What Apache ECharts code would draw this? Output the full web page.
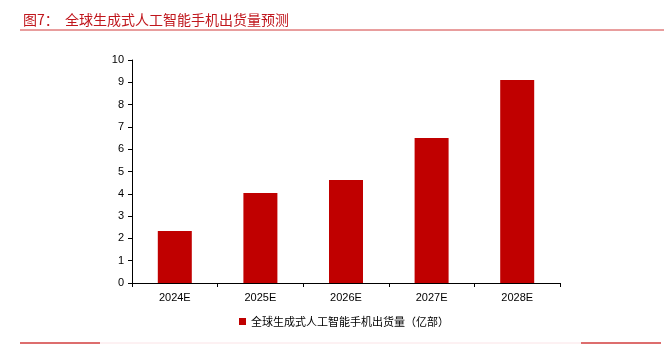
<!DOCTYPE html>
<html>
<head>
<meta charset="utf-8">
<script src="https://cdn.jsdelivr.net/npm/echarts@6/dist/echarts.min.js"></script>
<style>
  html, body { margin: 0; padding: 0; background: #fff; }
  #chart { width: 664px; height: 351px; }
</style>
</head>
<body>
<div id="chart"></div>
<script>
// 数据
var years = ["2024E", "2025E", "2026E", "2027E", "2028E"];
var shipments = [2.33, 4.04, 4.62, 6.5, 9.1];
var seriesName = "全球生成式人工智能手机出货量（亿部）";

(function() {
  var myChart = echarts.init(document.getElementById("chart"));
  var option = {
    animation: false,
    title: {
      text: "图7：  全球生成式人工智能手机出货量预测",
      left: 18,
      top: 8,
      textStyle: {
        color: "#c0161c",
        fontSize: 14,
        fontWeight: "normal",
        fontFamily: "Noto Sans CJK SC"
      }
    },
    graphic: [
      // 标题下的红线
      { type: "line", shape: { x1: 20, y1: 30, x2: 664, y2: 30 }, style: { stroke: "#d23c3c", lineWidth: 1 } },
      // 底部的线
      { type: "line", shape: { x1: 20, y1: 343, x2: 100, y2: 343 }, style: { stroke: "#d23c3c", lineWidth: 1.5 } },
      { type: "line", shape: { x1: 100, y1: 343, x2: 581, y2: 343 }, style: { stroke: "#fbe3e6", lineWidth: 1 } },
      { type: "line", shape: { x1: 581, y1: 343, x2: 661, y2: 343 }, style: { stroke: "#d23c3c", lineWidth: 1.5 } }
    ],
    legend: {
      bottom: 19,
      left: 234,
      itemWidth: 7,
      itemHeight: 7,
      itemGap: 4,
      textStyle: { color: "#000", fontSize: 11, fontFamily: "Noto Sans CJK SC" },
      data: [{ name: seriesName, icon: "rect" }]
    },
    grid: { left: 132, right: 104, top: 60, bottom: 68 },
    xAxis: {
      type: "category",
      data: years,
      axisLine: { lineStyle: { color: "#000" } },
      axisTick: { show: true, alignWithLabel: false, length: 4, lineStyle: { color: "#000" } },
      axisLabel: { color: "#000", fontSize: 11, margin: 9, fontFamily: "Liberation Sans" }
    },
    yAxis: {
      type: "value",
      min: 0,
      max: 10,
      interval: 1,
      splitLine: { show: false },
      axisLine: { show: true, lineStyle: { color: "#000" } },
      axisTick: { show: true, length: 4, lineStyle: { color: "#000" } },
      axisLabel: { color: "#000", fontSize: 11, margin: 8, fontFamily: "Liberation Sans" }
    },
    series: [
      {
        name: seriesName,
        type: "bar",
        data: shipments,
        barWidth: 34,
        itemStyle: { color: "#c00000" }
      }
    ]
  };
  myChart.setOption(option);
})();
</script>
</body>
</html>
